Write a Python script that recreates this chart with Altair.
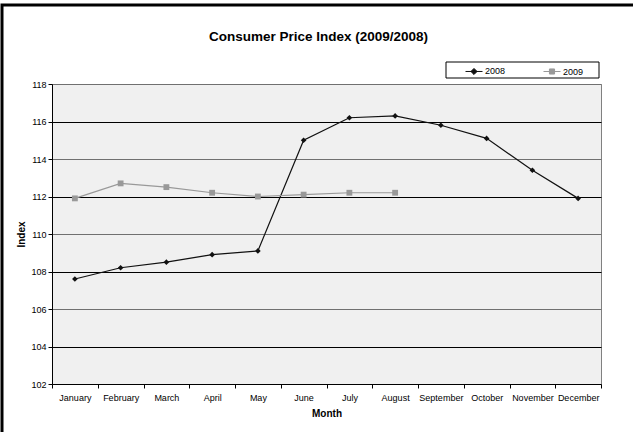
import altair as alt
import pandas as pd

# Monthly consumer price index, 2008 vs 2009
months = ["January", "February", "March", "April", "May", "June",
          "July", "August", "September", "October", "November", "December"]
years = ["2008", "2009"]
cpi_2008 = [107.6, 108.2, 108.5, 108.9, 109.1, 115.0, 116.2, 116.3, 115.8, 115.1, 113.4, 111.9]
cpi_2009 = [111.9, 112.7, 112.5, 112.2, 112.0, 112.1, 112.2, 112.2]
y_ticks = [102, 104, 106, 108, 110, 112, 114, 116, 118]
series_colors = ["#111111", "#999999"]

rows = [{"month": m, "year": "2008", "cpi": v} for m, v in zip(months, cpi_2008)]
rows += [{"month": m, "year": "2009", "cpi": v} for m, v in zip(months, cpi_2009)]
df = pd.DataFrame(rows)

FONT = "Liberation Sans"
W, H = 549, 300

# legend glyphs: short line with the series marker on it
glyph_2008 = "M-1,0L1,0M0,-0.36L0.36,0L0,0.36L-0.36,0Z"
glyph_2009 = "M-1,0L1,0M-0.3,-0.3L0.3,-0.3L0.3,0.3L-0.3,0.3Z"

x_enc = alt.X(
    "month:N", sort=months,
    scale=alt.Scale(type="band", paddingInner=0, paddingOuter=0),
    axis=alt.Axis(title="Month", tickBand="extent", labelAngle=0, labelFontSize=9,
                  labelPadding=5, tickSize=4, titleFontSize=10, titleFontWeight="bold",
                  titlePadding=6),
)
y_enc = alt.Y(
    "cpi:Q",
    scale=alt.Scale(domain=[102, 118], nice=False, zero=False),
    axis=alt.Axis(title="Index", values=y_ticks, grid=True,
                  gridColor=alt.condition("datum.value % 4 == 0", alt.value("#000000"), alt.value("#707070")),
                  gridWidth=1, labelFontSize=9, labelPadding=2, tickSize=4,
                  titleFontSize=10, titleFontWeight="bold", titlePadding=4),
)

base = alt.Chart(df)

frame = alt.Chart(alt.Data(values=[{"k": 1}])).mark_rect(
    fill="transparent", stroke="#000000", strokeWidth=3
).encode(x=alt.value(-50), y=alt.value(-79), x2=alt.value(W + 100), y2=alt.value(H + 100))

legend_box = alt.Chart(alt.Data(values=[{"k": 1}])).mark_rect(
    fill="#ffffff", stroke="#000000", strokeWidth=1
).encode(x=alt.value(394), y=alt.value(-22), x2=alt.value(547), y2=alt.value(-6))


def series(year, color, shape, size):
    sub = base.transform_filter(f"datum.year == '{year}'")
    line = sub.mark_line(strokeWidth=1.2, color=color).encode(x=x_enc, y=y_enc)
    pts = sub.mark_point(shape=shape, filled=True, size=size, opacity=1, color=color).encode(
        x=x_enc, y=y_enc)
    return [line, pts]


legend_args = dict(
    orient="none", legendX=413, legendY=-22, direction="horizontal", title=None,
    labelFontSize=9, labelFont=FONT, labelColor="#000000", labelOffset=2,
    symbolSize=289, symbolStrokeWidth=1, columnPadding=35, padding=0,
)
legend_layer = base.mark_point(filled=True, opacity=0).encode(
    x=x_enc, y=y_enc,
    color=alt.Color("year:N", scale=alt.Scale(domain=years, range=series_colors),
                    legend=alt.Legend(symbolOpacity=1, **legend_args)),
    stroke=alt.Stroke("year:N", scale=alt.Scale(domain=years, range=series_colors),
                      legend=alt.Legend(symbolOpacity=1, **legend_args)),
    shape=alt.Shape("year:N", scale=alt.Scale(domain=years, range=[glyph_2008, glyph_2009]),
                    legend=alt.Legend(symbolOpacity=1, **legend_args)),
)

layers = [frame, legend_box]
layers += series("2008", series_colors[0], "diamond", 32)
layers += series("2009", series_colors[1], "square", 34)
layers.append(legend_layer)

chart = alt.layer(*layers).properties(
    width=W, height=H,
    autosize=alt.AutoSizeParams(type="none"),
    padding={"left": 52, "top": 84, "right": 32, "bottom": 48},
    title=alt.Title("Consumer Price Index (2009/2008)", font=FONT, fontSize=13.5,
                    fontWeight="bold", color="#000000", anchor="middle", dx=-8, offset=0, dy=40),
).configure(
    background="#ffffff",
).configure_view(
    fill="#f0f0f0", stroke="#808080", strokeWidth=1,
).configure_axis(
    labelFont=FONT, titleFont=FONT, labelColor="#000000", titleColor="#000000",
    domainColor="#000000", tickColor="#000000",
)

chart.save("out.html", embed_options={"renderer": "svg", "actions": False})
